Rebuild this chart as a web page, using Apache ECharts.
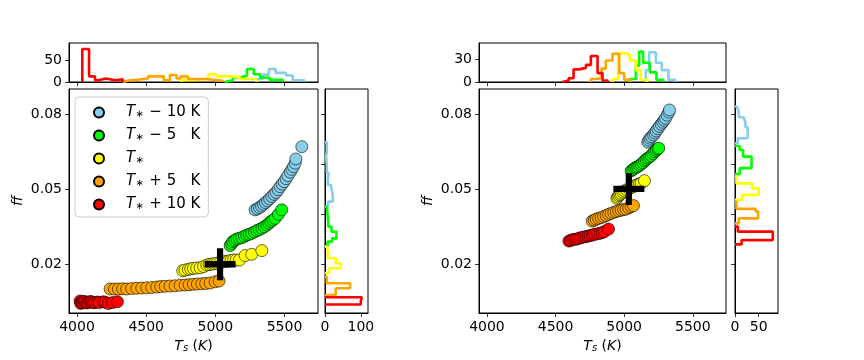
<!DOCTYPE html>
<html>
<head>
<meta charset="utf-8">
<script src="https://cdn.jsdelivr.net/npm/echarts@6/dist/echarts.min.js"></script>
<style>
  html, body { margin: 0; padding: 0; background: #fff; }
  #chart { width: 864px; height: 360px; }
</style>
</head>
<body>
<div id="chart"></div>
<script>
// legend names, one per temperature offset
const seriesNames = ['T* − 10 K', 'T* − 5\u00a0\u00a0\u00a0K', 'T*', 'T* + 5\u00a0\u00a0\u00a0K', 'T* + 10 K'];
const seriesColors = ['#87ceeb', '#00ff00', '#ffff00', '#ffa500', '#ff0000'];

// tick labels
const tsTicks = [4000, 4500, 5000, 5500];
const ffTicks = [0.02, 0.05, 0.08];
const ffSideTicks = [0.02, 0.04, 0.06, 0.08];
const leftTopCountTicks = [0, 50];
const rightTopCountTicks = [0, 30];
const leftSideCountTicks = [0, 100];
const rightSideCountTicks = [0, 50];

// left panel scatter (Ts, ff)
const leftTs = [
  [5287, 5303, 5319, 5334, 5348, 5362, 5377, 5392, 5408, 5424, 5439, 5454, 5468, 5483, 5497, 5511, 5524, 5541, 5553, 5565, 5577, 5582, 5625],
  [5107, 5118, 5126, 5140, 5155, 5173, 5191, 5210, 5227, 5245, 5263, 5282, 5300, 5318, 5336, 5354, 5372, 5387, 5401, 5416, 5432, 5456, 5480],
  [4764, 4780, 4805, 4822, 4841, 4865, 4890, 4915, 4938, 4955, 4974, 4990, 5010, 5035, 5058, 5075, 5095, 5113, 5131, 5150, 5174, 5215, 5263, 5336],
  [4239, 4270, 4299, 4330, 4359, 4395, 4432, 4468, 4504, 4540, 4576, 4605, 4637, 4672, 4709, 4745, 4781, 4810, 4841, 4870, 4902, 4930, 4962, 4998, 5027],
  [4022, 4027, 4035, 4041, 4050, 4058, 4070, 4082, 4094, 4106, 4118, 4130, 4150, 4162, 4190, 4205, 4227, 4258, 4292]
];
const leftFf = [
  [0.0417, 0.0421, 0.0426, 0.0432, 0.0439, 0.0446, 0.0453, 0.0461, 0.0470, 0.0479, 0.0487, 0.0498, 0.0510, 0.0520, 0.0530, 0.0542, 0.0554, 0.0568, 0.0579, 0.0590, 0.0604, 0.0621, 0.0670],
  [0.0274, 0.0282, 0.0290, 0.0295, 0.0300, 0.0303, 0.0306, 0.0311, 0.0316, 0.0319, 0.0323, 0.0328, 0.0334, 0.0338, 0.0343, 0.0349, 0.0356, 0.0363, 0.0370, 0.0376, 0.0383, 0.0399, 0.0417],
  [0.0173, 0.0176, 0.0179, 0.0181, 0.0183, 0.0184, 0.0185, 0.0190, 0.0196, 0.0198, 0.0200, 0.0201, 0.0203, 0.0206, 0.0209, 0.0210, 0.0212, 0.0214, 0.0216, 0.0216, 0.0216, 0.0234, 0.0239, 0.0254],
  [0.0100, 0.0100, 0.0100, 0.0101, 0.0100, 0.0102, 0.0103, 0.0104, 0.0105, 0.0106, 0.0108, 0.0110, 0.0111, 0.0112, 0.0113, 0.0115, 0.0116, 0.0117, 0.0119, 0.0120, 0.0121, 0.0122, 0.0124, 0.0129, 0.0132],
  [0.0052, 0.0042, 0.0048, 0.0046, 0.0050, 0.0049, 0.0044, 0.0046, 0.0050, 0.0049, 0.0045, 0.0046, 0.0048, 0.0046, 0.0049, 0.0047, 0.0042, 0.0046, 0.0049]
];

// right panel scatter (Ts, ff)
const rightTs = [
  [5172, 5180, 5189, 5200, 5214, 5224, 5233, 5245, 5257, 5269, 5281, 5291, 5301, 5313, 5325, 5330],
  [5051, 5063, 5075, 5087, 5099, 5112, 5124, 5136, 5148, 5160, 5172, 5185, 5197, 5209, 5221, 5233, 5245, 5252],
  [4947, 4954, 4961, 4970, 4978, 4990, 5002, 5018, 5034, 5051, 5068, 5084, 5099, 5112, 5124, 5148],
  [4767, 4782, 4796, 4814, 4832, 4850, 4869, 4887, 4905, 4924, 4942, 4960, 4978, 4996, 5014, 5033, 5051, 5068],
  [4597, 4611, 4626, 4640, 4655, 4671, 4687, 4705, 4723, 4738, 4752, 4768, 4784, 4805, 4825, 4841, 4857, 4886]
];
const rightFf = [
  [0.0688, 0.0696, 0.0704, 0.0710, 0.0717, 0.0725, 0.0733, 0.0742, 0.0751, 0.0760, 0.0768, 0.0776, 0.0784, 0.0796, 0.0808, 0.0817],
  [0.0573, 0.0578, 0.0584, 0.0587, 0.0590, 0.0595, 0.0600, 0.0606, 0.0613, 0.0619, 0.0624, 0.0629, 0.0634, 0.0642, 0.0650, 0.0656, 0.0661, 0.0664],
  [0.0463, 0.0468, 0.0474, 0.0478, 0.0483, 0.0488, 0.0493, 0.0497, 0.0501, 0.0506, 0.0510, 0.0515, 0.0519, 0.0521, 0.0523, 0.0534],
  [0.0372, 0.0376, 0.0380, 0.0383, 0.0386, 0.0390, 0.0394, 0.0399, 0.0403, 0.0407, 0.0410, 0.0413, 0.0416, 0.0418, 0.0420, 0.0425, 0.0430, 0.0434],
  [0.0292, 0.0295, 0.0298, 0.0299, 0.0300, 0.0303, 0.0306, 0.0308, 0.0310, 0.0312, 0.0314, 0.0316, 0.0319, 0.0321, 0.0323, 0.0326, 0.0330, 0.0340]
];

// reference star position (Ts, ff)
const leftStar = [5034, 0.0199];
const rightStar = [5034, 0.0501];

// top histograms: Ts bin edges and counts
const leftTopEdges = [
  [5296, 5344, 5387, 5435, 5512, 5560, 5644],
  [5067, 5127, 5188, 5228, 5277, 5325, 5392, 5488],
  [4755, 4850, 4947, 5007, 5103, 5175, 5296],
  [4329, 4382, 4435, 4514, 4627, 4671, 4719, 4748, 4803, 4863, 4935, 5055],
  [4038, 4087, 4130, 4154, 4209, 4274, 4330]
];
const leftTopCounts = [
  [7, 17, 30, 21, 15, 4],
  [4, 11, 15, 30, 18, 10, 5],
  [5, 7, 18, 13, 12, 7],
  [4, 5, 8, 13, 4, 16, 8, 13, 7, 7, 3],
  [76, 13, 4, 8, 4, 6]
];
const rightTopEdges = [
  [5158, 5182, 5231, 5274, 5323, 5371],
  [5036, 5085, 5109, 5138, 5187, 5235, 5284],
  [4915, 4956, 4995, 5041, 5085, 5121, 5170],
  [4757, 4794, 4835, 4866, 4915, 4964, 5000, 5048],
  [4551, 4595, 4631, 4672, 4721, 4757, 4806, 4842, 4879]
];
const rightTopCounts = [
  [16, 40, 26, 16, 3],
  [4, 22, 41, 26, 13, 3],
  [4, 39, 37, 29, 16, 3],
  [4, 5, 18, 29, 38, 12, 3],
  [2, 5, 17, 19, 23, 35, 12, 2]
];

// side histograms: ff bin edges and counts
const leftSideEdges = [
  [0.0430, 0.0450, 0.0470, 0.0490, 0.0517, 0.0543, 0.0564, 0.0597, 0.0630, 0.0650, 0.0688],
  [0.0270, 0.0290, 0.0303, 0.0330, 0.0350, 0.0370, 0.0430],
  [0.0163, 0.0183, 0.0203, 0.0223, 0.0250, 0.0270],
  [0.0076, 0.0103, 0.0123, 0.0149],
  [0.0038, 0.0052, 0.0067]
];
const leftSideCounts = [
  [8, 22, 20, 16, 8, 11, 5, 3, 5, 5],
  [7, 20, 32, 18, 9, 5],
  [11, 44, 30, 8, 5],
  [30, 70, 5],
  [100, 103]
];
const rightSideEdges = [
  [0.0684, 0.0704, 0.0748, 0.0768, 0.0788, 0.0811, 0.0831],
  [0.0560, 0.0584, 0.0630, 0.0657, 0.0673],
  [0.0457, 0.0477, 0.0503, 0.0523, 0.0550],
  [0.0363, 0.0383, 0.0410, 0.0421, 0.0450],
  [0.0279, 0.0296, 0.0330, 0.0350]
];
const rightSideCounts = [
  [6, 27, 22, 18, 8, 4],
  [10, 35, 17, 10],
  [15, 50, 36, 3],
  [8, 49, 44, 3],
  [14, 80, 6]
];

const FONT = 'DejaVu Sans';
const tsRange = [3942, 5742];
const ffRange = [0.0004, 0.0901];

function stepPoints(edges, counts, sideways) {
  const pts = [];
  const push = (v, c) => pts.push(sideways ? [c, v] : [v, c]);
  push(edges[0], 0);
  counts.forEach((c, i) => {
    push(edges[i], c);
    push(edges[i + 1], c);
  });
  push(edges[edges.length - 1], 0);
  return pts;
}

function axis(gridIndex, range, ticks, showLabels, extra) {
  return Object.assign({
    type: 'value',
    gridIndex,
    min: range[0],
    max: range[1],
    splitLine: { show: false },
    axisLine: { show: true, onZero: false, lineStyle: { color: '#000', width: 1 } },
    axisTick: { show: true, inside: false, length: 4, customValues: ticks, lineStyle: { color: '#000', width: 0.8 } },
    axisLabel: {
      show: showLabels, customValues: ticks, color: '#000', fontFamily: FONT, fontSize: 14, margin: 7,
      formatter: v => String(v)
    }
  }, extra || {});
}

const tsName = {
  name: '{i|T}{sub|s}{n| (}{i|K}{n|)}',
  nameLocation: 'middle',
  nameGap: 24,
  nameTextStyle: {
    rich: {
      i: { fontFamily: FONT, fontStyle: 'italic', fontSize: 14, color: '#000' },
      sub: { fontFamily: FONT, fontStyle: 'italic', fontSize: 10, color: '#000', padding: [6, 0, 0, 0] },
      n: { fontFamily: FONT, fontSize: 14, color: '#000' }
    }
  }
};
const ffName = {
  name: 'ff',
  nameLocation: 'middle',
  nameGap: 44,
  nameTextStyle: { fontFamily: FONT, fontStyle: 'italic', fontSize: 14, color: '#000' }
};

const grids = [
  { left: 69, top: 89, width: 249, height: 224 },
  { left: 69, top: 43, width: 249, height: 39 },
  { left: 325, top: 89, width: 43, height: 224 },
  { left: 479, top: 89, width: 247, height: 224 },
  { left: 479, top: 43, width: 247, height: 39 },
  { left: 735, top: 89, width: 43, height: 224 }
].map(g => Object.assign(g, { show: true, borderColor: '#000', borderWidth: 1, backgroundColor: '#fff' }));

const xAxes = [
  axis(0, tsRange, tsTicks, true, tsName),
  axis(1, tsRange, tsTicks, false),
  axis(2, [0, 120], leftSideCountTicks, true),
  axis(3, tsRange, tsTicks, true, tsName),
  axis(4, tsRange, tsTicks, false),
  axis(5, [0, 91], rightSideCountTicks, true)
];
const yAxes = [
  axis(0, ffRange, ffTicks, true, ffName),
  axis(1, [0, 90], leftTopCountTicks, true),
  axis(2, ffRange, ffSideTicks, false),
  axis(3, ffRange, ffTicks, true, ffName),
  axis(4, [0, 52.5], rightTopCountTicks, true),
  axis(5, ffRange, ffSideTicks, false)
];

const series = [];
function addPanel(base, tsArr, ffArr, star, topEdges, topCounts, sideEdges, sideCounts) {
  seriesNames.forEach((name, k) => {
    series.push({
      name, type: 'scatter', xAxisIndex: base, yAxisIndex: base,
      symbol: 'circle', symbolSize: 12,
      itemStyle: { color: seriesColors[k], borderColor: '#000', borderWidth: 0.6, opacity: 1 },
      data: tsArr[k].map((t, i) => [t, ffArr[k][i]]),
      z: 3
    });
  });
  series.push({
    type: 'scatter', xAxisIndex: base, yAxisIndex: base,
    symbol: 'path://M40,0H60V40H100V60H60V100H40V60H0V40H40Z', symbolSize: [31, 32],
    itemStyle: { color: '#000', opacity: 1 }, data: [star], z: 5
  });
  seriesNames.forEach((name, k) => {
    series.push({
      type: 'line', xAxisIndex: base + 1, yAxisIndex: base + 1,
      symbol: 'none', lineStyle: { color: seriesColors[k], width: 2.6 },
      data: stepPoints(topEdges[k], topCounts[k], false)
    });
    series.push({
      type: 'line', xAxisIndex: base + 2, yAxisIndex: base + 2,
      symbol: 'none', lineStyle: { color: seriesColors[k], width: 2.6 },
      data: stepPoints(sideEdges[k], sideCounts[k], true)
    });
  });
}
addPanel(0, leftTs, leftFf, leftStar, leftTopEdges, leftTopCounts, leftSideEdges, leftSideCounts);
addPanel(3, rightTs, rightFf, rightStar, rightTopEdges, rightTopCounts, rightSideEdges, rightSideCounts);

const chart = echarts.init(document.getElementById('chart'), null, { renderer: 'canvas' });
chart.setOption({
  animation: false,
  backgroundColor: '#fff',
  grid: grids,
  xAxis: xAxes,
  yAxis: yAxes,
  legend: {
    data: seriesNames,
    orient: 'vertical',
    left: 75,
    top: 97,
    padding: [8, 8, 5, 18],
    itemWidth: 10,
    itemHeight: 10,
    itemGap: 8,
    backgroundColor: 'rgba(255,255,255,0.85)',
    borderColor: '#cccccc',
    borderWidth: 1,
    borderRadius: 4,
    formatter: name => {
      const rest = name.replace(/^T\*/, '');
      return '{t|T}{s|∗}' + (rest ? '{n|' + rest + '}' : '');
    },
    textStyle: {
      rich: {
        t: { fontFamily: FONT, fontStyle: 'italic', fontSize: 15, color: '#000', lineHeight: 18, padding: [0, 0, 0, 17] },
        s: { fontFamily: FONT, fontSize: 10, color: '#000', lineHeight: 18, padding: [3, 1, 0, 0] },
        n: { fontFamily: FONT, fontSize: 15, color: '#000', lineHeight: 18 }
      }
    }
  },
  series
});
</script>
</body>
</html>
